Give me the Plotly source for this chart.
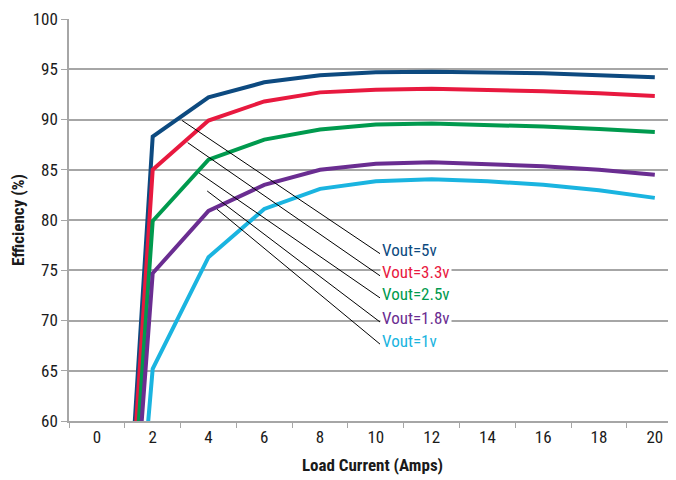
import plotly.graph_objects as go

load_current = [0, 2, 4, 6, 8, 10, 12, 14, 16, 18, 20]
eff_5v = [0, 88.3, 92.2, 93.7, 94.4, 94.7, 94.75, 94.7, 94.6, 94.4, 94.2]
eff_3v3 = [0, 85.0, 89.9, 91.8, 92.7, 92.95, 93.05, 92.95, 92.8, 92.6, 92.35]
eff_2v5 = [0, 79.9, 86.0, 88.0, 89.0, 89.5, 89.6, 89.5, 89.3, 89.05, 88.75]
eff_1v8 = [0, 74.7, 80.9, 83.5, 85.0, 85.6, 85.75, 85.6, 85.35, 85.0, 84.5]
eff_1v = [0, 65.2, 76.3, 81.1, 83.1, 83.85, 84.05, 83.85, 83.5, 82.95, 82.2]

series_names = ["Vout=5v", "Vout=3.3v", "Vout=2.5v", "Vout=1.8v", "Vout=1v"]
series_values = [eff_5v, eff_3v3, eff_2v5, eff_1v8, eff_1v]
colors = ["#0d4a80", "#e8193f", "#009a4e", "#6a2d91", "#1ab4e0"]

# leader line start points (data coords) and label anchor positions
leader_start_x = [3.0, 3.2, 3.6, 3.9, 4.25]
leader_start_y = [90.0, 87.8, 84.8, 83.0, 81.2]
label_x = [10.15, 10.15, 10.15, 10.15, 10.15]
label_y = [77.0, 74.8, 72.6, 70.2, 68.0]

FONT = "Liberation Sans Narrow, Roboto Condensed, Arial Narrow, sans-serif"
GRID = "#a6a6a6"

fig = go.Figure()
for name, vals, col in zip(series_names, series_values, colors):
    fig.add_trace(go.Scatter(x=load_current, y=vals, mode="lines", name=name,
                             line=dict(color=col, width=4), showlegend=False))

annotations = []
for name, col, sx, sy, lx, ly in zip(series_names, colors, leader_start_x,
                                     leader_start_y, label_x, label_y):
    annotations.append(dict(x=lx, y=ly - 0.35, ax=sx, ay=sy, xref="x", yref="y",
                            axref="x", ayref="y", showarrow=True, arrowhead=0,
                            arrowwidth=1, arrowcolor="#000000", text=""))
    annotations.append(dict(x=lx, y=ly, xref="x", yref="y", text=name,
                            showarrow=False, xanchor="left", yanchor="middle",
                            font=dict(family=FONT, size=17, color=col),
                            bgcolor="white", borderpad=1))

fig.update_layout(
    width=668, height=472,
    margin=dict(l=61, r=0, t=11, b=59, autoexpand=False),
    paper_bgcolor="white", plot_bgcolor="white",
    font=dict(family=FONT, size=17, color="#1a1a1a"),
    annotations=annotations,
    xaxis=dict(range=[-1, 20.76], tickvals=load_current, ticks="",
               automargin=False,
               showgrid=False, zeroline=False, showline=True, linecolor=GRID,
               linewidth=1.5,
               minor=dict(tickvals=[-1, 1, 3, 5, 7, 9, 11, 13, 15, 17, 19, 21],
                          ticks="outside", ticklen=5, tickcolor=GRID,
                          showgrid=False),
               title=dict(text="<b>Load Current (Amps)</b>", standoff=13,
                          font=dict(family=FONT, size=17, color="#1a1a1a")),
               tickfont=dict(family=FONT, size=17)),
    yaxis=dict(range=[60, 100], dtick=5, ticks="outside", ticklen=6,
               automargin=False,
               tickcolor=GRID, showgrid=True, gridcolor=GRID, gridwidth=1.5,
               zeroline=False, showline=True, linecolor=GRID, linewidth=1.5,
               title=dict(text="<b>Efficiency (%)</b>", standoff=14,
                          font=dict(family=FONT, size=17, color="#1a1a1a")),
               tickfont=dict(family=FONT, size=17)),
)

fig.write_html("out.html")
